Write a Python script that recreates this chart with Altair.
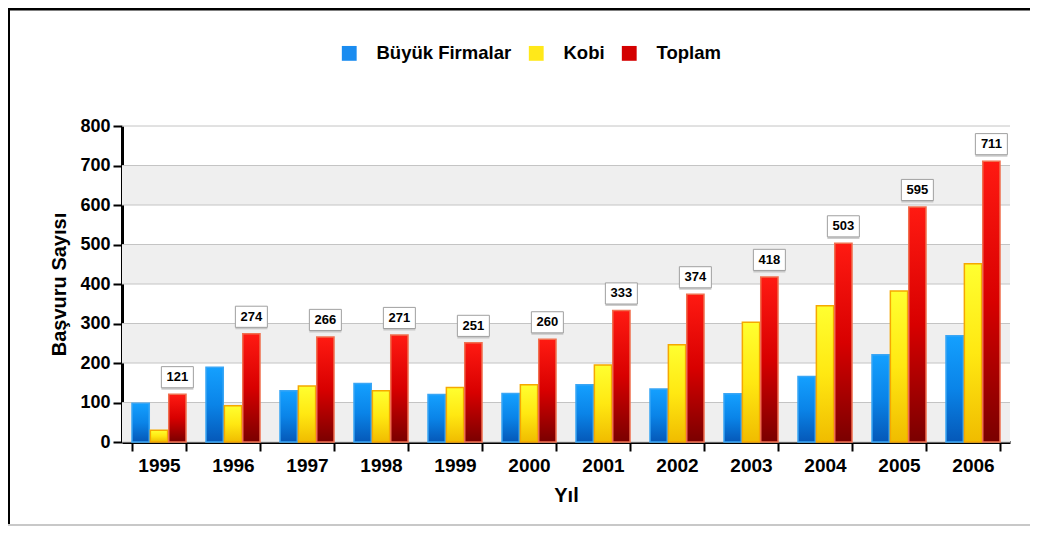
import altair as alt
import pandas as pd

# ---------------- data ----------------
years = ["1995", "1996", "1997", "1998", "1999", "2000",
         "2001", "2002", "2003", "2004", "2005", "2006"]
series_names = ["Büyük Firmalar", "Kobi", "Toplam"]
buyuk = [98, 189, 130, 148, 120, 123, 145, 134, 122, 166, 221, 269]
kobi = [30, 92, 142, 130, 138, 145, 195, 246, 303, 345, 382, 451]
toplam = [121, 274, 266, 271, 251, 260, 333, 374, 418, 503, 595, 711]
y_ticks = [0, 100, 200, 300, 400, 500, 600, 700, 800]
band_starts = [0, 200, 400, 600]
band_ends = [100, 300, 500, 700]

rows = []
for name, vals in zip(series_names, [buyuk, kobi, toplam]):
    for yr, v in zip(years, vals):
        rows.append({"year": yr, "series": name, "value": v})
df = pd.DataFrame(rows)
bands_df = pd.DataFrame({"start": band_starts, "end": band_ends})
grid_df = pd.DataFrame({"v": y_ticks})
frame_df = pd.DataFrame({"k": [0]})

FONT = "Liberation Sans"
W, H = 888, 316

solid_colors = ["#1a8cf0", "#ffe81a", "#d40000"]


def grad(c_top, c_mid, c_bot):
    return alt.Gradient(
        gradient="linear",
        stops=[alt.GradientStop(color=c_top, offset=0),
               alt.GradientStop(color=c_mid, offset=0.5),
               alt.GradientStop(color=c_bot, offset=1)],
        x1=0, x2=0, y1=0, y2=1,
    )


gradients = {
    "Büyük Firmalar": (grad("#14a0ff", "#0a84e8", "#0558b8"), "#3aa6f5"),
    "Kobi": (grad("#ffff30", "#ffe812", "#f0bc00"), "#f5a800"),
    "Toplam": (grad("#ff1a12", "#d80000", "#7a0000"), "#f07050"),
}

x_axis = alt.Axis(
    title="Yıl", labelAngle=0, tickBand="extent",
    domainWidth=3, domainColor="black",
    tickColor="black", tickWidth=2, tickSize=9,
    labelFont=FONT, labelFontSize=19, labelFontWeight="bold",
    labelColor="black", labelPadding=5,
    titleFont=FONT, titleFontSize=20, titleFontWeight="bold",
    titleColor="black", titlePadding=10,
)
x_enc = alt.X(
    "year:N", sort=years,
    scale=alt.Scale(paddingInner=0.27, paddingOuter=0.135),
    axis=x_axis,
)
xoff_enc = alt.XOffset("series:N", sort=series_names,
                       scale=alt.Scale(paddingInner=0.06))
y_scale = alt.Scale(domain=[0, 800], nice=False)
y_axis = alt.Axis(
    values=y_ticks, title="Başvuru Sayısı", grid=False,
    domainWidth=3, domainColor="black",
    tickColor="black", tickWidth=2, tickSize=9,
    labelFont=FONT, labelFontSize=18, labelFontWeight="bold",
    labelColor="black", labelPadding=3,
    titleFont=FONT, titleFontSize=20, titleFontWeight="bold",
    titleColor="black", titlePadding=10,
)
y_enc = alt.Y("value:Q", scale=y_scale, axis=y_axis)

# background alternating bands
bands = alt.Chart(bands_df).mark_rect(color="#efefef").encode(
    x=alt.value(0), x2=alt.value(W),
    y=alt.Y("start:Q", scale=y_scale, axis=y_axis), y2="end:Q",
)

# gridlines
grid = alt.Chart(grid_df).mark_rule(color="#c4c4c4", strokeWidth=1).encode(
    x=alt.value(0), x2=alt.value(W),
    y=alt.Y("v:Q", scale=y_scale, axis=y_axis),
)

# solid bars for legend (covered by gradient bars)
legend_bars = alt.Chart(df).mark_bar().encode(
    x=x_enc, xOffset=xoff_enc, y=y_enc,
    color=alt.Color(
        "series:N", sort=series_names,
        scale=alt.Scale(domain=series_names, range=solid_colors),
        legend=alt.Legend(
            title=None, orient="none", legendX=218, legendY=-82,
            direction="horizontal", symbolType="square", symbolSize=220,
            symbolStrokeWidth=0,
            labelFont=FONT, labelFontSize=18.5, labelFontWeight="bold",
            labelColor="black", labelOffset=18, columnPadding=15,
        ),
    ),
)

layers = [bands, grid, legend_bars]
for name in series_names:
    g, stroke = gradients[name]
    layers.append(
        alt.Chart(df).transform_filter(alt.datum.series == name)
        .mark_bar(color=g, stroke=stroke, strokeWidth=1.5)
        .encode(x=x_enc, xOffset=xoff_enc, y=y_enc)
    )

box_path = "M-1,-0.66L1,-0.66L1,0.66L-1,0.66Z"
tot = alt.Chart(df).transform_filter(alt.datum.series == "Toplam")

shadow = tot.mark_point(
    shape=box_path, size=1024, filled=True, fill="#b8b8b8",
    opacity=0.7, xOffset=2, yOffset=-15,
).encode(x=x_enc, xOffset=xoff_enc, y=y_enc)

box = tot.mark_point(
    shape=box_path, size=1024, filled=True, fill="white",
    stroke="#a0a0a0", strokeWidth=1, opacity=1, yOffset=-17,
).encode(x=x_enc, xOffset=xoff_enc, y=y_enc)

label = tot.mark_text(
    font=FONT, fontSize=13, fontWeight="bold", color="black",
    baseline="middle", align="center", dy=-17,
).encode(x=x_enc, xOffset=xoff_enc, y=y_enc, text="value:Q")

layers += [shadow, box, label]

# frame around the figure
frame_top = alt.Chart(frame_df).mark_rule(color="black", strokeWidth=3).encode(
    x=alt.value(-114), x2=alt.value(W + 20), y=alt.value(-117))
frame_left = alt.Chart(frame_df).mark_rule(color="black", strokeWidth=2).encode(
    x=alt.value(-113), y=alt.value(-117), y2=alt.value(H + 84))
frame_bottom = alt.Chart(frame_df).mark_rule(color="#c8c8c8", strokeWidth=2).encode(
    x=alt.value(-114), x2=alt.value(W + 20), y=alt.value(H + 83))
layers += [frame_top, frame_left, frame_bottom]

chart = alt.layer(*layers).properties(
    width=W, height=H,
    padding={"left": 114, "top": 118, "right": 20, "bottom": 84},
    autosize=alt.AutoSizeParams(type="none"),
    background="white",
).configure_view(stroke=None)

chart.save("out.html", embed_options={"renderer": "svg", "actions": False})
